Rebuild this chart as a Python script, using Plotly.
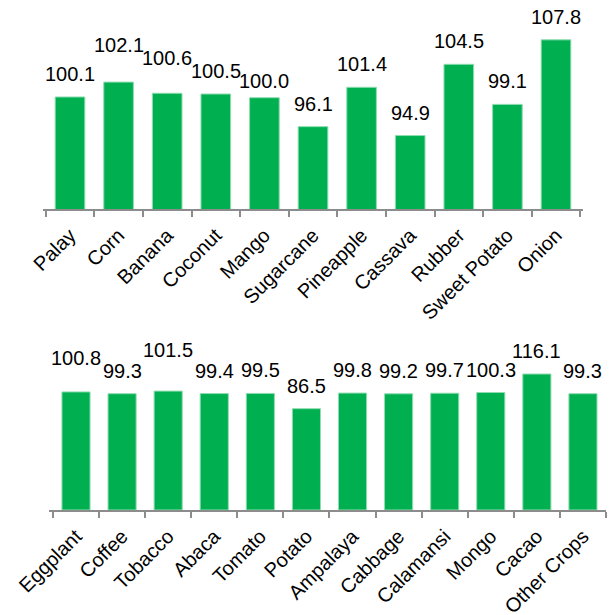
import plotly.graph_objects as go

top_crops = ["Palay", "Corn", "Banana", "Coconut", "Mango", "Sugarcane",
             "Pineapple", "Cassava", "Rubber", "Sweet Potato", "Onion"]
top_values = [100.1, 102.1, 100.6, 100.5, 100.0, 96.1, 101.4, 94.9, 104.5, 99.1, 107.8]

bottom_crops = ["Eggplant", "Coffee", "Tobacco", "Abaca", "Tomato", "Potato",
                "Ampalaya", "Cabbage", "Calamansi", "Mongo", "Cacao", "Other Crops"]
bottom_values = [100.8, 99.3, 101.5, 99.4, 99.5, 86.5, 99.8, 99.2, 99.7, 100.3, 116.1, 99.3]

# extra pixel lift of individual value labels (label placement style)
top_label_lift = [0, 14, 12, 0, -6, 0, 0, 0, 0, 0, 0]
bottom_label_lift = [11, 0, 18, 0, 0, 0, 0, 0, 0, 0, 0, 0]

GREEN = "#00B050"
FONT = "Liberation Sans, Arial, sans-serif"
W, H = 613, 615

fig = go.Figure()
fig.add_trace(go.Bar(x=top_crops, y=top_values, xaxis="x", yaxis="y",
                     marker=dict(color=GREEN, line=dict(color="#8fdcb1", width=1)),
                     hoverinfo="skip"))
fig.add_trace(go.Bar(x=bottom_crops, y=bottom_values, xaxis="x2", yaxis="y2",
                     marker=dict(color=GREEN, line=dict(color="#8fdcb1", width=1)),
                     hoverinfo="skip"))

annotations = []
for c, v, s in zip(top_crops, top_values, top_label_lift):
    annotations.append(dict(x=c, y=v, xref="x", yref="y", text=f"{v:.1f}",
                            showarrow=False, yanchor="bottom", yshift=10 + s,
                            font=dict(family=FONT, size=20, color="black")))
for c, v, s in zip(bottom_crops, bottom_values, bottom_label_lift):
    annotations.append(dict(x=c, y=v, xref="x2", yref="y2", text=f"{v:.1f}",
                            showarrow=False, yanchor="bottom", yshift=10 + s,
                            font=dict(family=FONT, size=20, color="black")))

axis_common = dict(showline=True, linecolor="#8c8c8c", linewidth=1.5,
                   ticks="outside", tickson="boundaries", ticklen=6,
                   tickcolor="#8c8c8c", tickwidth=1.5, tickangle=-45,
                   ticklabelstandoff=5,
                   tickfont=dict(family=FONT, size=20, color="black"),
                   showgrid=False, automargin=False, fixedrange=True)

fig.update_layout(
    width=W, height=H,
    margin=dict(l=0, r=0, t=0, b=0),
    paper_bgcolor="white", plot_bgcolor="white",
    showlegend=False, bargap=0.39,
    xaxis=dict(domain=[43 / W, 583 / W], anchor="y", **axis_common),
    yaxis=dict(domain=[1 - 209 / H, 1 - 23.5 / H], range=[85, 110],
               visible=False, fixedrange=True),
    xaxis2=dict(domain=[49 / W, 606 / W], anchor="y2", **axis_common),
    yaxis2=dict(domain=[1 - 510 / H, 1 - 346 / H], range=[0, 140],
                visible=False, fixedrange=True),
    annotations=annotations,
)

fig.write_html("out.html")
